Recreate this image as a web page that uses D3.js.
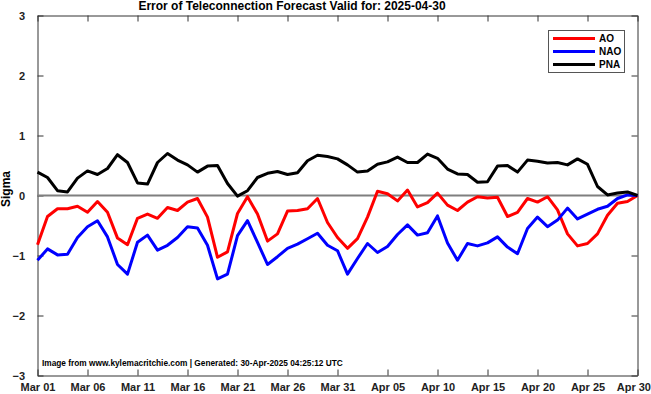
<!DOCTYPE html>
<html>
<head>
<meta charset="utf-8">
<script src="https://cdn.jsdelivr.net/npm/d3@7"></script>
<style>
  body { margin: 0; background: #fff; }
  svg { display: block; font-family: "Liberation Sans", Arial, Helvetica, sans-serif; }
  .axis path, .axis line { stroke: #333; }
  .axis text { font-weight: bold; fill: #222; }
</style>
</head>
<body>
<div class="chart-area"></div>
<script>
// daily errors, Mar 01 .. Apr 30 2025
var startDate = "2025-03-01";
var aoVals = [-0.82,-0.35,-0.22,-0.22,-0.18,-0.28,-0.10,-0.28,-0.71,-0.82,
              -0.38,-0.31,-0.38,-0.20,-0.25,-0.11,-0.05,-0.36,-1.03,-0.94,
              -0.30,-0.02,-0.31,-0.76,-0.64,-0.26,-0.25,-0.22,-0.05,-0.45,
              -0.70,-0.88,-0.72,-0.36,0.07,0.03,-0.09,0.09,-0.19,-0.12,
              0.04,-0.16,-0.25,-0.11,-0.02,-0.04,-0.03,-0.35,-0.28,-0.05,
              -0.11,-0.02,-0.24,-0.64,-0.84,-0.80,-0.64,-0.33,-0.13,-0.10,0.00];
var naoVals = [-1.08,-0.89,-0.99,-0.98,-0.70,-0.52,-0.42,-0.69,-1.15,-1.31,
               -0.78,-0.66,-0.91,-0.83,-0.70,-0.52,-0.54,-0.83,-1.39,-1.31,
               -0.67,-0.42,-0.78,-1.15,-1.02,-0.88,-0.81,-0.72,-0.63,-0.83,
               -0.92,-1.31,-1.05,-0.80,-0.95,-0.85,-0.65,-0.49,-0.66,-0.62,
               -0.34,-0.79,-1.08,-0.80,-0.84,-0.79,-0.69,-0.86,-0.97,-0.55,
               -0.36,-0.52,-0.41,-0.21,-0.39,-0.31,-0.23,-0.18,-0.05,0.01,0.00];
var pnaVals = [0.39,0.30,0.08,0.06,0.29,0.41,0.35,0.45,0.68,0.55,
               0.21,0.19,0.55,0.70,0.59,0.51,0.39,0.49,0.50,0.20,
               -0.01,0.08,0.30,0.37,0.40,0.35,0.38,0.58,0.67,0.65,
               0.61,0.51,0.39,0.41,0.52,0.56,0.64,0.55,0.55,0.69,
               0.62,0.44,0.36,0.35,0.22,0.23,0.49,0.50,0.39,0.59,
               0.57,0.54,0.55,0.51,0.61,0.52,0.15,0.01,0.04,0.06,0.00];
var seriesNames = ["AO", "NAO", "PNA"];
var seriesColors = ["#ff0000", "#0000ff", "#000000"];
var yTicks = [-3, -2, -1, 0, 1, 2, 3];
var titleText = "Error of Teleconnection Forecast Valid for: 2025-04-30";
var footerText = "Image from www.kylemacritchie.com | Generated: 30-Apr-2025 04:25:12 UTC";

var W = 651, H = 394;
var margin = {top: 15.5, right: 13.5, bottom: 18.5, left: 37.5};
var width = W - margin.left - margin.right,
    height = H - margin.top - margin.bottom;

var svg = d3.select(".chart-area").append("svg")
    .attr("width", W)
    .attr("height", H);

var g = svg.append("g")
    .attr("transform", "translate(" + margin.left + "," + margin.top + ")");

var t0 = d3.utcParse("%Y-%m-%d")(startDate);
var dates = aoVals.map(function(d, i) { return d3.utcDay.offset(t0, i); });

var x = d3.scaleUtc()
    .domain([dates[0], dates[dates.length - 1]])
    .range([0, width]);
var y = d3.scaleLinear()
    .domain([-3, 3])
    .range([height, 0]);

var xTicks = dates.filter(function(d, i) { return i % 5 === 0; });
var fmt = d3.utcFormat("%b %d");

// frame axes, ticks pointing inward
var bottomAxis = g.append("g").attr("class", "axis")
    .attr("transform", "translate(0," + height + ")")
    .call(d3.axisBottom(x).tickValues(xTicks).tickFormat(fmt).tickSizeInner(-6).tickSizeOuter(0).tickPadding(7.5));
bottomAxis.selectAll("text").style("font-size", "11px");
// last label sits against the right edge of the picture
bottomAxis.selectAll(".tick:last-of-type text")
    .attr("text-anchor", "end")
    .attr("x", W - margin.left - width - 0.5);

g.append("g").attr("class", "axis")
    .call(d3.axisTop(x).tickValues(xTicks).tickFormat("").tickSizeInner(-6).tickSizeOuter(0));
g.append("g").attr("class", "axis")
    .call(d3.axisLeft(y).tickValues(yTicks).tickFormat(d3.format("d")).tickSizeInner(-6).tickSizeOuter(0).tickPadding(12.5))
    .selectAll("text").style("font-size", "11px");
g.append("g").attr("class", "axis")
    .attr("transform", "translate(" + width + ",0)")
    .call(d3.axisRight(y).tickValues(yTicks).tickFormat("").tickSizeInner(-6).tickSizeOuter(0));

// zero line
g.append("line")
    .attr("x1", 0).attr("x2", width)
    .attr("y1", y(0)).attr("y2", y(0))
    .style("stroke", "#7f7f7f")
    .style("stroke-width", 2);

var line = d3.line()
    .x(function(d, i) { return x(dates[i]); })
    .y(function(d) { return y(d); });

[aoVals, naoVals, pnaVals].forEach(function(vals, k) {
    g.append("path")
        .datum(vals)
        .attr("d", line)
        .style("fill", "none")
        .style("stroke", seriesColors[k])
        .style("stroke-width", 3)
        .style("stroke-linejoin", "round");
});

// legend
var lg = svg.append("g");
lg.append("rect")
    .attr("x", 548.5).attr("y", 30.5)
    .attr("width", 76).attr("height", 42)
    .style("fill", "#fff").style("stroke", "#555");
seriesNames.forEach(function(name, k) {
    var ly = 38.5 + k * 13;
    lg.append("line")
        .attr("x1", 553).attr("x2", 595)
        .attr("y1", ly).attr("y2", ly)
        .style("stroke", seriesColors[k])
        .style("stroke-width", 3);
    lg.append("text")
        .attr("x", 599).attr("y", ly + 3.5)
        .style("font-size", "10px").style("font-weight", "bold")
        .text(name);
});

// title
svg.append("text")
    .attr("x", 292).attr("y", 9.5)
    .attr("text-anchor", "middle")
    .style("font-size", "12px").style("font-weight", "bold")
    .text(titleText);

// y label
svg.append("text")
    .attr("transform", "translate(10," + 189 + ") rotate(-90)")
    .attr("text-anchor", "middle")
    .style("font-size", "12px").style("font-weight", "bold")
    .text("Sigma");

// footer
svg.append("text")
    .attr("x", 42).attr("y", 366)
    .style("font-size", "8.3px").style("font-weight", "bold")
    .text(footerText);
</script>
</body>
</html>
